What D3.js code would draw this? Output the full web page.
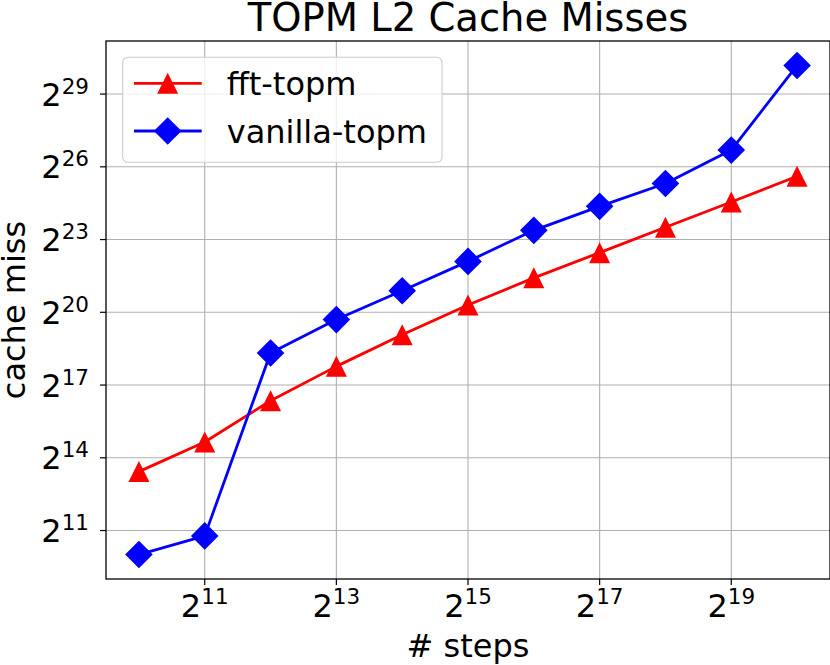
<!DOCTYPE html>
<html>
<head>
<meta charset="utf-8">
<script src="https://cdn.jsdelivr.net/npm/d3@7"></script>
<style>
  body { margin: 0; background: #fff; }
  text { font-family: "DejaVu Sans", sans-serif; }
</style>
</head>
<body>
<div class="chart"></div>
<script>
// --- data (log2 axes) ---
const steps = [1024, 2048, 4096, 8192, 16384, 32768, 65536, 131072, 262144, 524288, 1048576];
const fftTopm = [11036, 25710, 83530, 223520, 550340, 1290900, 2805800, 5769300, 11946000, 24563000, 51214000];
const vanillaTopm = [1031, 1758, 327240, 851700, 1943100, 4495400, 10916000, 21683000, 41598000, 108267000, 1216440000];
const xTickExps = [11, 13, 15, 17, 19];
const yTickExps = [11, 14, 17, 20, 23, 26, 29];

const series = [
    { name: "fft-topm", color: "#ff0000", marker: "triangle", values: fftTopm },
    { name: "vanilla-topm", color: "#0000ff", marker: "diamond", values: vanillaTopm }
];

// --- dimensions ---
const W = 830, H = 665;
const m = { left: 106, right: 0, top: 41, bottom: 86 };
const baseFont = 32, supFont = 21.5;

const svg = d3.select(".chart").append("svg")
    .attr("width", W)
    .attr("height", H);

// matplotlib-style 5% margins in log space
const pad = (lo, hi) => {
    const a = Math.log2(lo), b = Math.log2(hi), d = (b - a) * 0.05;
    return [Math.pow(2, a - d), Math.pow(2, b + d)];
};
const allY = fftTopm.concat(vanillaTopm);

const x = d3.scaleLog().base(2)
    .domain(pad(d3.min(steps), d3.max(steps)))
    .range([m.left, W - m.right]);
const y = d3.scaleLog().base(2)
    .domain(pad(d3.min(allY), d3.max(allY)))
    .range([H - m.bottom, m.top]);

const x0 = m.left, x1 = W - m.right, y0 = H - m.bottom, y1 = m.top;

// grid
const grid = svg.append("g").attr("stroke", "#b0b0b0").attr("stroke-width", 1.1);
xTickExps.forEach(e => {
    grid.append("line")
        .attr("x1", x(Math.pow(2, e))).attr("x2", x(Math.pow(2, e)))
        .attr("y1", y1).attr("y2", y0);
});
yTickExps.forEach(e => {
    grid.append("line")
        .attr("x1", x0).attr("x2", x1)
        .attr("y1", y(Math.pow(2, e))).attr("y2", y(Math.pow(2, e)));
});

// marker shapes
const markerPath = (type) => type === "triangle"
    ? "M0,-10.5L10.5,10.5L-10.5,10.5Z"
    : "M0,-13.8L13.8,0L0,13.8L-13.8,0Z";

const line = d3.line()
    .x(d => x(d[0]))
    .y(d => y(d[1]));

series.forEach(s => {
    const pts = steps.map((st, i) => [st, s.values[i]]);
    const g = svg.append("g");
    g.append("path")
        .datum(pts)
        .attr("d", line)
        .attr("fill", "none")
        .attr("stroke", s.color)
        .attr("stroke-width", 2.8)
        .attr("stroke-linejoin", "round");
    g.selectAll("path.mk")
        .data(pts)
        .enter()
        .append("path")
        .attr("class", "mk")
        .attr("d", markerPath(s.marker))
        .attr("transform", d => `translate(${x(d[0])},${y(d[1])})`)
        .attr("fill", s.color);
});

// spines
svg.append("rect")
    .attr("x", x0).attr("y", y1)
    .attr("width", x1 - x0).attr("height", y0 - y1)
    .attr("fill", "none")
    .attr("stroke", "#000")
    .attr("stroke-width", 1.3);

// ticks and labels
const ticks = svg.append("g").attr("stroke", "#000").attr("stroke-width", 1.2);
xTickExps.forEach(e => {
    const px = x(Math.pow(2, e));
    ticks.append("line").attr("x1", px).attr("x2", px).attr("y1", y0).attr("y2", y0 + 6);
    const t = svg.append("text")
        .attr("x", px)
        .attr("y", 617)
        .attr("text-anchor", "middle")
        .style("font-size", baseFont + "px");
    t.append("tspan").text("2");
    t.append("tspan").attr("dy", -13).style("font-size", supFont + "px").text(e);
});
yTickExps.forEach(e => {
    const py = y(Math.pow(2, e));
    ticks.append("line").attr("x1", x0 - 6).attr("x2", x0).attr("y1", py).attr("y2", py);
    const t = svg.append("text")
        .attr("x", 89)
        .attr("y", py + 11.5)
        .attr("text-anchor", "end")
        .style("font-size", baseFont + "px");
    t.append("tspan").text("2");
    t.append("tspan").attr("dy", -12).style("font-size", supFont + "px").text(e);
});

// title and axis labels
svg.append("text")
    .attr("x", (x0 + x1) / 2)
    .attr("y", 30.5)
    .attr("text-anchor", "middle")
    .style("font-size", "38.5px")
    .text("TOPM L2 Cache Misses");

svg.append("text")
    .attr("x", (x0 + x1) / 2)
    .attr("y", 657)
    .attr("text-anchor", "middle")
    .style("font-size", baseFont + "px")
    .text("# steps");

svg.append("text")
    .attr("transform", `translate(25,${(y0 + y1) / 2}) rotate(-90)`)
    .attr("text-anchor", "middle")
    .style("font-size", baseFont + "px")
    .text("cache miss");

// legend
const lg = svg.append("g");
lg.append("rect")
    .attr("x", 122.7).attr("y", 57.3)
    .attr("width", 319.3).attr("height", 105)
    .attr("rx", 5)
    .attr("fill", "#fff")
    .attr("fill-opacity", 0.8)
    .attr("stroke", "#cccccc")
    .attr("stroke-width", 1.1);

series.forEach((s, i) => {
    const ly = 83.3 + i * 47.7;
    lg.append("line")
        .attr("x1", 134).attr("x2", 201.7)
        .attr("y1", ly).attr("y2", ly)
        .attr("stroke", s.color)
        .attr("stroke-width", 2.8);
    lg.append("path")
        .attr("d", markerPath(s.marker))
        .attr("transform", `translate(167.7,${ly})`)
        .attr("fill", s.color);
    lg.append("text")
        .attr("x", 226.7)
        .attr("y", ly + 11.5)
        .style("font-size", baseFont + "px")
        .text(s.name);
});
</script>
</body>
</html>
